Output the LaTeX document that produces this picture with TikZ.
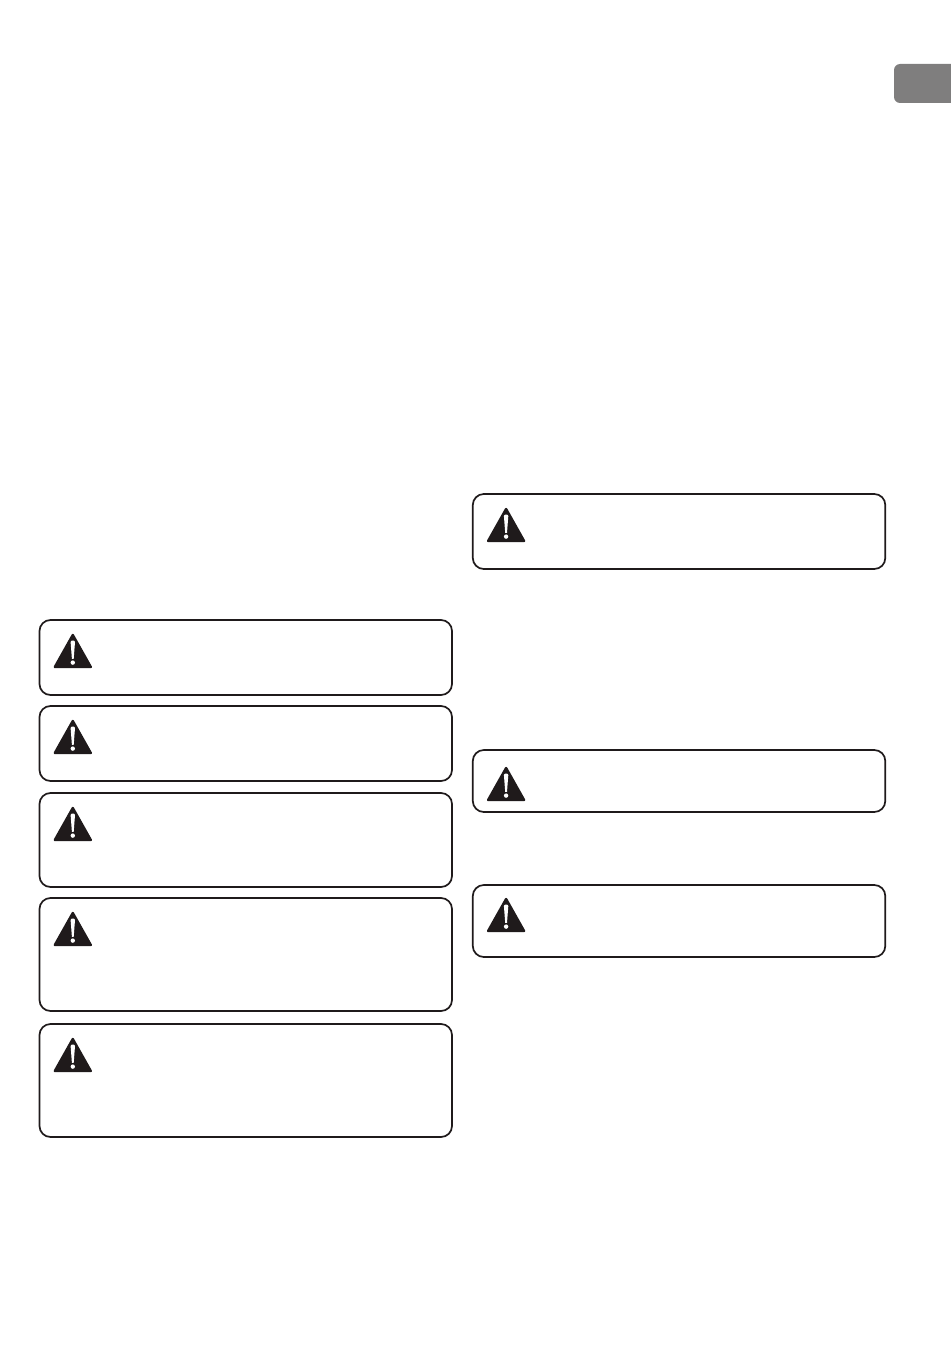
\documentclass[tikz,border=0pt]{standalone}
\definecolor{tabgray}{HTML}{7F7E7E}
\definecolor{inkblack}{HTML}{1F1A1B}
\tikzset{
  warnbox/.style={draw=inkblack,line width=1.7pt,rounded corners=11pt,fill=white,inner sep=0pt,outer sep=0pt},
  warntri/.style={fill=inkblack,draw=inkblack,line width=2.4pt,line join=round},
  warnmark/.style={fill=white,draw=none},
  pics/warnsign/.style={code={
    \path[warntri] (0,-32) -- (-18,0) -- (18,0) -- cycle;
    \path[warnmark] (-2.2,-25) .. controls (-2.2,-27) and (2.2,-27) .. (2.2,-25) -- (0.9,-8.2) -- (-0.9,-8.2) -- cycle;
    \path[warnmark] (0,-4.4) circle (2.2);
  }}
}
% name, left, top, width, height, icon baseline below the top edge
\newcommand{\warnpanel}[6]{%
  \node[warnbox,minimum width=#4pt,minimum height=#5pt,anchor=north west] (#1) at (#2,#3) {};
  \path (#2,#3) ++(33.3,#6) pic {warnsign};
}
\begin{document}
\begin{tikzpicture}[x=1pt,y=-1pt]
\useasboundingbox (0,0) rectangle (950,1348);
\path[fill=tabgray,rounded corners=6pt] (894,64) rectangle (962,103);
\warnpanel{boxa}{39.5}{620}{412.5}{75}{47}
\warnpanel{boxb}{39.5}{706}{412.5}{75}{47}
\warnpanel{boxc}{39.5}{793}{412.5}{94}{47}
\warnpanel{boxd}{39.5}{898}{412.5}{113}{47}
\warnpanel{boxe}{39.5}{1024}{412.5}{113}{47}
\warnpanel{boxf}{472.8}{494}{412.5}{75}{47}
\warnpanel{boxg}{472.8}{750}{412.5}{62}{50}
\warnpanel{boxh}{472.8}{885}{412.5}{72}{46}
\end{tikzpicture}
\end{document}
